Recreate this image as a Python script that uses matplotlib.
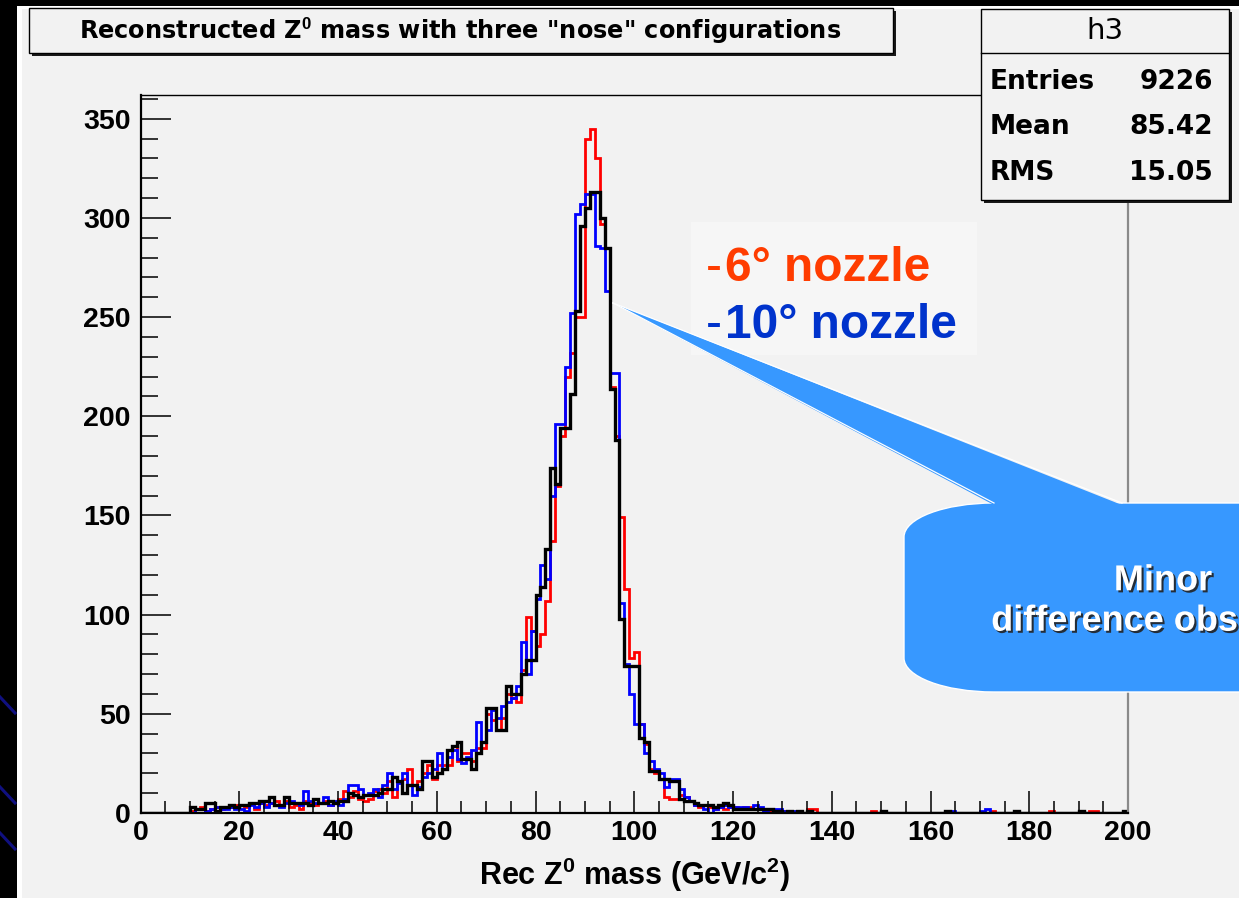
import numpy as np
import matplotlib
matplotlib.use("Agg")
import matplotlib.pyplot as plt
import matplotlib.transforms as mtransforms
from matplotlib.patches import Rectangle, PathPatch, Polygon
from matplotlib.path import Path
from matplotlib.lines import Line2D
from matplotlib.ticker import MultipleLocator
import matplotlib.patheffects as pe

# ---------------------------------------------------------------- data
# reconstructed Z0 mass histograms, 1 GeV/c^2 bins from 0 to 200
mass_min, mass_max, n_bins = 0, 200, 200

# black: reference nose configuration
counts_nominal = [
    0, 0, 0, 0, 0, 0, 0, 0, 0, 0,            # 0-9
    3, 2, 2, 5, 5, 1, 3, 3, 4, 3,            # 10-19
    4, 4, 5, 5, 6, 6, 8, 4, 4, 8,            # 20-29
    5, 5, 5, 5, 4, 7, 5, 5, 6, 5,            # 30-39
    6, 6, 10, 9, 8, 9, 9, 9, 10, 12,         # 40-49
    12, 18, 16, 10, 14, 14, 12, 26, 26, 18,  # 50-59
    20, 22, 32, 34, 36, 27, 27, 22, 30, 36,  # 60-69
    53, 53, 42, 42, 64, 60, 60, 70, 77, 77,  # 70-79
    110, 114, 133, 174, 166, 194, 194, 211, 253, 296,  # 80-89
    305, 313, 313, 300, 285, 214, 188, 98, 74, 74,     # 90-99
    74, 38, 36, 21, 21, 17, 17, 16, 16, 7,   # 100-109
    6, 6, 5, 4, 4, 4, 3, 4, 5, 4,            # 110-119
    2, 2, 2, 2, 2, 2, 2, 2, 1, 1,            # 120-129
    0, 1, 0, 1, 0, 1, 0, 0, 0, 0,            # 130-139
    0, 0, 0, 0, 0, 0, 0, 0, 0, 0,            # 140-149
    1, 0, 0, 0, 0, 0, 0, 0, 0, 0,            # 150-159
    0, 0, 0, 1, 0, 0, 0, 0, 0, 0,            # 160-169
    0, 0, 0, 0, 0, 0, 0, 1, 0, 0,            # 170-179
    0, 0, 0, 0, 0, 0, 0, 0, 0, 0,            # 180-189
    1, 0, 0, 0, 0, 0, 0, 0, 0, 1,            # 190-199
]

# red: -6 degree nozzle
counts_6deg = [
    0, 0, 0, 0, 0, 0, 0, 0, 0, 0,
    1, 2, 3, 1, 2, 3, 2, 3, 3, 4,
    4, 3, 5, 2, 5, 4, 5, 6, 4, 6,
    3, 4, 2, 6, 5, 4, 5, 6, 4, 5,
    7, 11, 8, 11, 7, 6, 7, 11, 12, 10,
    16, 8, 16, 17, 22, 14, 16, 20, 24, 17,
    24, 24, 24, 34, 26, 30, 30, 26, 33, 33,
    50, 47, 42, 48, 60, 58, 56, 72, 99, 92,
    84, 90, 107, 137, 165, 190, 220, 232, 250, 250,
    340, 345, 330, 297, 285, 215, 190, 149, 113, 78,
    81, 45, 35, 22, 20, 17, 8, 7, 7, 9,
    8, 6, 4, 3, 4, 3, 2, 3, 2, 3,
    3, 2, 3, 3, 2, 2, 2, 1, 1, 1,
    1, 1, 0, 1, 0, 2, 2, 0, 0, 0,
    0, 0, 0, 0, 0, 0, 0, 0, 1, 0,
    0, 0, 0, 0, 0, 0, 0, 0, 0, 0,
    0, 0, 0, 0, 0, 0, 0, 0, 0, 0,
    0, 0, 1, 0, 0, 0, 0, 1, 0, 0,
    0, 0, 0, 0, 1, 0, 0, 0, 0, 0,
    0, 0, 1, 1, 0, 0, 0, 0, 0, 0,
]

# blue: -10 degree nozzle
counts_10deg = [
    0, 0, 0, 0, 0, 0, 0, 0, 0, 0,
    0, 2, 2, 1, 2, 3, 2, 2, 3, 2,
    2, 1, 4, 3, 5, 3, 5, 4, 3, 5,
    6, 5, 4, 11, 6, 5, 5, 8, 4, 6,
    4, 7, 14, 14, 12, 9, 10, 12, 8, 14,
    20, 12, 15, 20, 14, 9, 13, 18, 20, 22,
    30, 22, 28, 32, 27, 25, 28, 32, 46, 36,
    42, 52, 48, 54, 56, 58, 64, 86, 70, 92,
    108, 125, 118, 160, 196, 196, 225, 252, 302, 307,
    312, 312, 286, 285, 263, 222, 222, 106, 75, 60,
    45, 45, 30, 26, 22, 20, 13, 17, 17, 12,
    8, 6, 4, 4, 2, 0, 2, 3, 4, 3,
    3, 3, 3, 2, 4, 3, 1, 0, 2, 2,
    1, 1, 1, 0, 0, 1, 0, 0, 0, 0,
    0, 0, 0, 0, 0, 0, 0, 0, 0, 0,
    0, 0, 0, 0, 0, 0, 0, 0, 0, 0,
    0, 0, 0, 0, 1, 0, 0, 0, 0, 0,
    1, 2, 0, 0, 0, 0, 0, 0, 0, 0,
    0, 0, 0, 0, 0, 0, 0, 0, 0, 0,
    0, 0, 0, 0, 0, 0, 0, 0, 0, 1,
]

stats_name = "h3"
stats_labels = ["Entries", "Mean", "RMS"]
stats_values = ["9226", "85.42", "15.05"]

title_text = 'Reconstructed Z$^0$ mass with three "nose" configurations'
x_title = "Rec Z$^0$ mass (GeV/c$^2$)"
legend_labels = ["6\u00b0 nozzle", "10\u00b0 nozzle"]
legend_colors = ["#ff3c00", "#0033cc"]
callout_lines = "Minor\ndifference observed"

# ---------------------------------------------------------------- style
W, H = 1239, 898
plt.rcParams["font.family"] = ["Liberation Sans", "DejaVu Sans"]
plt.rcParams["mathtext.fontset"] = "custom"
plt.rcParams["mathtext.rm"] = "Liberation Sans:bold"
plt.rcParams["mathtext.it"] = "Liberation Sans:bold"
plt.rcParams["mathtext.bf"] = "Liberation Sans:bold"

CANVAS = "#f2f2f2"

fig = plt.figure(figsize=(W / 100, H / 100), dpi=100)
fig.patch.set_facecolor("black")

# pixel coordinates measured from the top-left corner
pix = mtransforms.Affine2D().scale(1 / W, -1 / H).translate(0, 1) + fig.transFigure


def rect(x0, y0, x1, y1, **kw):
    p = Rectangle((x0, y0), x1 - x0, y1 - y0, transform=pix, **kw)
    fig.add_artist(p)
    return p


# slide border and canvas
rect(17, 6, W + 5, H + 5, facecolor="white", edgecolor="none", zorder=-3)
rect(22, 9, W + 5, H + 5, facecolor=CANVAS, edgecolor="none", zorder=-2)
for y0 in (697, 787, 833):
    fig.add_artist(Line2D([0, 15], [y0, y0 + 16], transform=pix,
                          color="#101080", lw=2.2, zorder=-2.5))

# ---------------------------------------------------------------- axes
ax_l, ax_r, ax_t, ax_b = 140.5, 1128, 95, 813
ax = fig.add_axes([ax_l / W, 1 - ax_b / H, (ax_r - ax_l) / W, (ax_b - ax_t) / H])
ax.set_facecolor(CANVAS)
ax.set_xlim(mass_min, mass_max)
ax.set_ylim(0, 362)

edges = np.linspace(mass_min, mass_max, n_bins + 1)
ax.stairs(counts_6deg, edges, color="#ff0000", lw=2.0, baseline=0)
ax.stairs(counts_10deg, edges, color="#0000ff", lw=2.0, baseline=0)
ax.stairs(counts_nominal, edges, color="black", lw=2.4, baseline=0)

ax.xaxis.set_major_locator(MultipleLocator(20))
ax.xaxis.set_minor_locator(MultipleLocator(5))
ax.yaxis.set_major_locator(MultipleLocator(50))
ax.yaxis.set_minor_locator(MultipleLocator(10))
ax.tick_params(axis="x", which="major", direction="in", length=16, width=1.1,
               pad=5, labelsize=20.5, top=False)
ax.tick_params(axis="x", which="minor", direction="in", length=8.6, width=1.1, top=False)
ax.tick_params(axis="y", which="major", direction="in", length=21.5, width=1.1,
               pad=7, labelsize=20.5, right=False)
ax.tick_params(axis="y", which="minor", direction="in", length=12, width=1.1, right=False)
for lab in ax.get_xticklabels() + ax.get_yticklabels():
    lab.set_fontweight("bold")

ax.spines["left"].set_linewidth(1.6)
ax.spines["bottom"].set_linewidth(1.6)
ax.spines["top"].set_linewidth(1.0)
ax.spines["right"].set_linewidth(1.6)
ax.spines["right"].set_color("#8a8a8a")

fig.text(635, 875, x_title, transform=pix, ha="center", va="center",
         fontsize=22, fontweight="bold")

# ---------------------------------------------------------------- title pave
rect(32, 11, 896, 56, facecolor="#1a1a1a", edgecolor="none", zorder=4)
rect(29, 8, 893, 53, facecolor=CANVAS, edgecolor="black", lw=1.0, zorder=4)
fig.text(460, 31, title_text, transform=pix, ha="center", va="center",
         fontsize=17.3, fontweight="bold", family=["DejaVu Sans"], zorder=5)

# ---------------------------------------------------------------- stats pave
rect(984, 12, 1232, 203, facecolor="#1a1a1a", edgecolor="none", zorder=4)
rect(981, 9, 1229, 200, facecolor=CANVAS, edgecolor="black", lw=1.0, zorder=4)
fig.add_artist(Line2D([981, 1229], [53, 53], transform=pix, color="black",
                      lw=1.0, zorder=5))
fig.text(1105, 31, stats_name, transform=pix, ha="center", va="center",
         fontsize=21, family=["DejaVu Sans"], zorder=5)
for i, (lab, val) in enumerate(zip(stats_labels, stats_values)):
    yy = 82 + 45.5 * i
    fig.text(990, yy, lab, transform=pix, ha="left", va="center",
             fontsize=19, fontweight="bold", family=["DejaVu Sans"], zorder=5)
    fig.text(1213, yy, val, transform=pix, ha="right", va="center",
             fontsize=19, fontweight="bold", family=["DejaVu Sans"], zorder=5)

# ---------------------------------------------------------------- nozzle labels
rect(691, 222, 977, 355, facecolor="#f6f6f6", edgecolor="none", zorder=5)
for i, (lab, col) in enumerate(zip(legend_labels, legend_colors)):
    yb = 281 + 57 * i
    fig.text(706, yb, "-", transform=pix, ha="left", va="baseline",
             fontsize=34.5, color=col, zorder=6)
    fig.text(725, yb, lab, transform=pix, ha="left", va="baseline",
             fontsize=34.5, fontweight="bold", color=col, zorder=6)

# ---------------------------------------------------------------- callout
CALLOUT = "#3798ff"
bx0, by0, bx1, by1 = 904, 503, 1400, 692
rx, ry = 90, 34
k = 0.5523
verts = [
    (bx0 + rx, by0), (bx1, by0), (bx1, by1), (bx0 + rx, by1),
    (bx0 + rx - k * rx, by1), (bx0, by1 - ry + k * ry), (bx0, by1 - ry),
    (bx0, by0 + ry),
    (bx0, by0 + ry - k * ry), (bx0 + rx - k * rx, by0), (bx0 + rx, by0),
    (bx0 + rx, by0),
]
codes = [Path.MOVETO, Path.LINETO, Path.LINETO, Path.LINETO,
         Path.CURVE4, Path.CURVE4, Path.CURVE4,
         Path.LINETO,
         Path.CURVE4, Path.CURVE4, Path.CURVE4,
         Path.CLOSEPOLY]
fig.add_artist(PathPatch(Path(verts, codes), transform=pix, facecolor=CALLOUT,
                         edgecolor="white", lw=1.0, zorder=7))

tip = (613, 303)
base_l, base_r = (994, 505), (1122, 505)
fig.add_artist(Polygon([tip, base_l, base_r], closed=True, transform=pix,
                       facecolor=CALLOUT, edgecolor="none", zorder=7.5))
for end in (base_l, base_r):
    fig.add_artist(Line2D([tip[0], end[0]], [tip[1], end[1] - 2], transform=pix,
                          color="white", lw=0.9, zorder=7.6))

fig.text(1163, 601, callout_lines, transform=pix, ha="center", va="center",
         fontsize=26, fontweight="bold", color="white", linespacing=1.2,
         zorder=8,
         path_effects=[pe.SimplePatchShadow(offset=(1.5, -1.5),
                                            shadow_rgbFace="#222222", alpha=0.9),
                       pe.Normal()])

fig.savefig("out.png", dpi=100, facecolor=fig.get_facecolor())
